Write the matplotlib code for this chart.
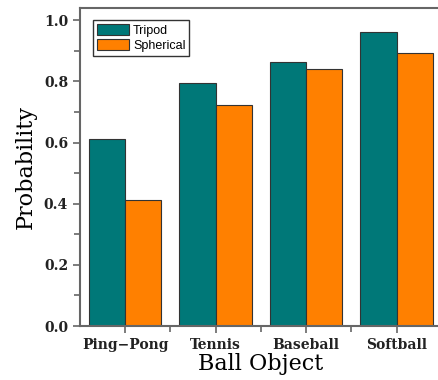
import numpy as np
import matplotlib
matplotlib.use("Agg")
import matplotlib.pyplot as plt
from matplotlib.ticker import MultipleLocator, FixedLocator

# detection probability per ball type
balls = ["Ping-Pong", "Tennis", "Baseball", "Softball"]
tripod = [0.613, 0.794, 0.862, 0.963]
spherical = [0.413, 0.723, 0.840, 0.892]

teal = "#007878"
orange = "#FF8000"
edge = "#333333"
spine = "#666666"

fig = plt.figure(figsize=(4.39, 3.8), dpi=100)
# right edge of the axes runs just past the figure border
ax = fig.add_axes([0.182, 0.142, 0.8246, 0.837])

x = np.arange(len(balls))
w = 0.4
ax.bar(x - w / 2, tripod, w, color=teal, edgecolor=edge, linewidth=0.8, label="Tripod")
ax.bar(x + w / 2, spherical, w, color=orange, edgecolor=edge, linewidth=0.8, label="Spherical")

ax.set_xlim(-0.5, 3.5)
ax.set_ylim(0, 1.04)
ax.set_xticks(x)
ax.set_xticklabels([b.replace("-", "\u2212") for b in balls])
ax.xaxis.set_minor_locator(FixedLocator(x[:-1] + 0.5))
ax.yaxis.set_major_locator(MultipleLocator(0.2))
ax.yaxis.set_minor_locator(MultipleLocator(0.1))
ax.yaxis.set_major_formatter(matplotlib.ticker.FormatStrFormatter("%.1f"))

for s in ax.spines.values():
    s.set_color(spine)
    s.set_linewidth(1.5)

ax.tick_params(which="both", direction="out", color=spine, width=1.2)
ax.tick_params(which="major", length=5)
ax.tick_params(which="minor", length=4)
for lab in ax.get_xticklabels() + ax.get_yticklabels():
    lab.set_fontfamily("DejaVu Serif")
    lab.set_fontweight("bold")
    lab.set_fontsize(10)
    lab.set_color("#222222")

ax.set_xlabel("Ball Object", family="DejaVu Serif", fontsize=16, labelpad=1)
ax.set_ylabel("Probability", family="DejaVu Serif", fontsize=16, labelpad=5)

leg = ax.legend(loc="upper left", bbox_to_anchor=(0.036, 0.962), borderaxespad=0,
                fancybox=False, edgecolor="#333333", framealpha=1,
                handlelength=2.6, handleheight=1.0, borderpad=0.3,
                labelspacing=0.2, handletextpad=0.3,
                prop={"family": "Liberation Sans", "size": 9})
leg.get_frame().set_linewidth(1.0)

fig.savefig("out.png", dpi=100)
